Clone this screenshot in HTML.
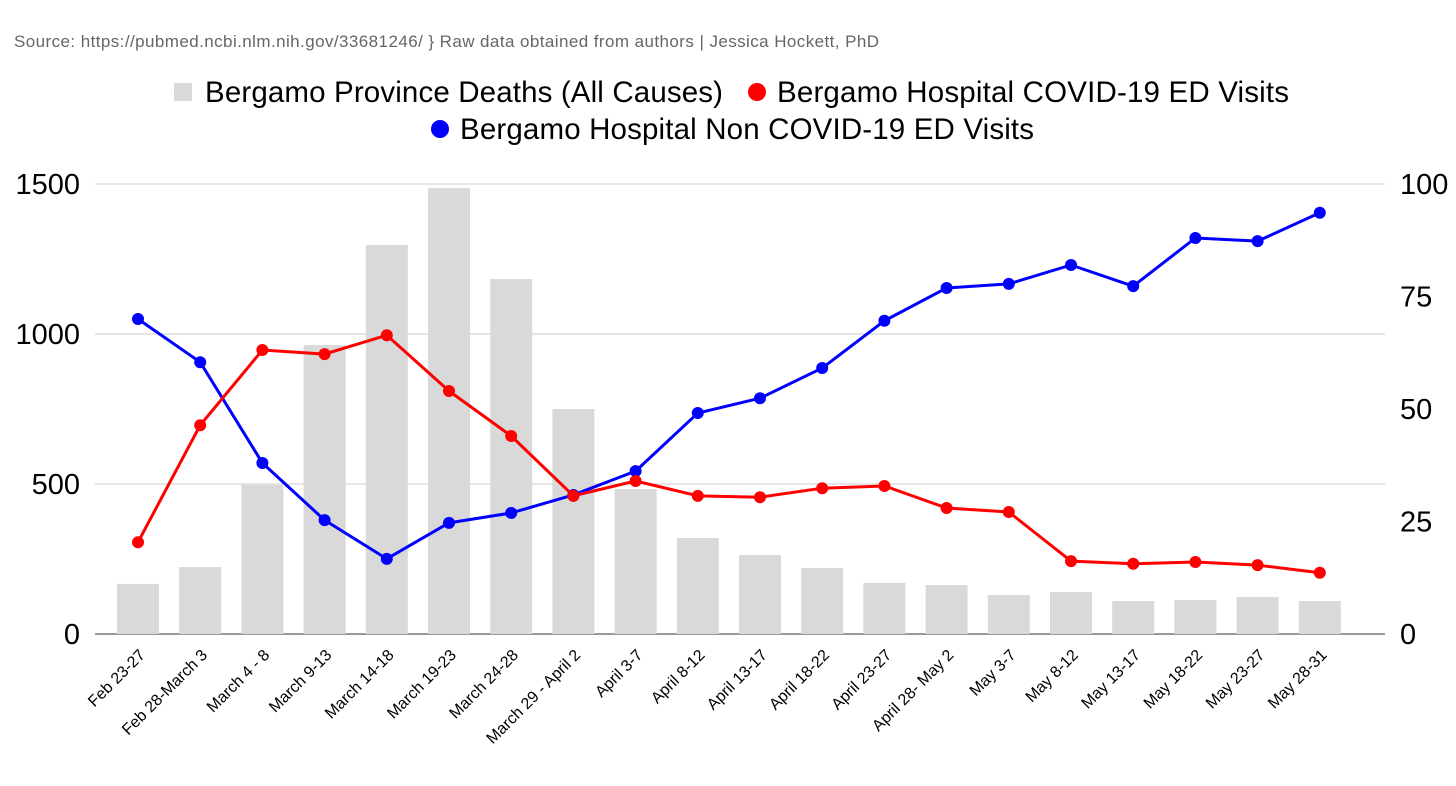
<!DOCTYPE html>
<html><head><meta charset="utf-8"><style>
body{margin:0;background:#fff;font-family:"Liberation Sans",Arial,sans-serif;}
svg text{font-family:"Liberation Sans",Arial,sans-serif;}
</style></head><body>
<svg id="chart" width="1456" height="781" viewBox="0 0 1456 781">
<text x="14" y="47" font-size="17" fill="#666" textLength="865">Source: https://pubmed.ncbi.nlm.nih.gov/33681246/ } Raw data obtained from authors | Jessica Hockett, PhD</text>
<g>
<g><rect x="174" y="83" width="18" height="18" fill="#d9d9d9"/><text x="205" y="102" font-size="29.5" textLength="518">Bergamo Province Deaths (All Causes)</text></g>
<g><circle cx="757" cy="92" r="9" fill="#f00"/><text x="777" y="102" font-size="29.5" textLength="512">Bergamo Hospital COVID-19 ED Visits</text></g>
<g><circle cx="440" cy="129" r="9" fill="#00f"/><text x="460" y="139" font-size="29.5" textLength="574">Bergamo Hospital Non COVID-19 ED Visits</text></g>
</g>
<g id="grid"></g><g id="bars"></g><g id="lines"></g><g id="axes"></g>
</svg>
<script>
const categories=["Feb 23-27","Feb 28-March 3","March 4 - 8","March 9-13","March 14-18","March 19-23","March 24-28","March 29 - April 2","April 3-7","April 8-12","April 13-17","April 18-22","April 23-27","April 28- May 2","May 3-7","May 8-12","May 13-17","May 18-22","May 23-27","May 28-31"];
const deaths=[167,223,497,963,1297,1487,1183,750,483,320,263,220,170,163,130,140,110,113,123,110];
const covidVisits=[20.4,46.4,63.1,62.2,66.4,54,44,30.7,34,30.7,30.4,32.4,32.9,28,27.1,16.2,15.6,16,15.3,13.6];
const nonCovidVisits=[70,60.4,38,25.3,16.7,24.7,26.9,30.9,36.2,49.1,52.4,59.1,69.6,76.9,77.8,82,77.3,88,87.3,93.6];
const leftTicks=[0,500,1000,1500];
const rightTicks=[0,25,50,75,100];
const NS="http://www.w3.org/2000/svg";
const y0=634,yTop=184,x0=138,dx=62.2;
const xS=i=>x0+i*dx;
const yL=v=>y0-v/1500*(y0-yTop);
const yR=v=>y0-v/100*(y0-yTop);
function mk(tag,attrs,parent){const e=document.createElementNS(NS,tag);for(const k in attrs)e.setAttribute(k,attrs[k]);document.getElementById(parent).appendChild(e);return e;}
leftTicks.forEach(t=>{
 const l=mk('line',{x1:95,x2:1385,y1:yL(t),y2:yL(t),stroke:t===0?'#333':'#ccc','stroke-width':1},'grid');
 
 
 const tx=mk('text',{x:80,y:yL(t)+10,'font-size':29,'text-anchor':'end'},'axes');tx.textContent=t;
 
 
});
rightTicks.forEach(t=>{
 const tx=mk('text',{x:1400,y:yR(t)+10,'font-size':29},'axes');tx.textContent=t;
 
 
});
deaths.forEach((v,i)=>{
 const r=mk('rect',{x:xS(i)-21,y:yL(v),width:42,height:y0-yL(v),fill:'#d9d9d9'},'bars');
 
 
});
categories.forEach((c,i)=>{
 const tx=mk('text',{x:0,y:0,'font-size':16,'text-anchor':'end',transform:`translate(${xS(i)+8},${y0+22}) rotate(-45)`},'axes');tx.textContent=c;
 
 
});
function series(vals,color,name){
 const p=mk('polyline',{points:vals.map((v,i)=>xS(i)+','+yR(v)).join(' '),fill:'none',stroke:color,'stroke-width':3,'stroke-linejoin':'round'},'lines');
 
 
 vals.forEach((v,i)=>{
  const c=mk('circle',{cx:xS(i),cy:yR(v),r:6,fill:color},'lines');
  
  
 });
}
series(nonCovidVisits,'#00f','noncovid');
series(covidVisits,'#f00','covid');
</script>
</body></html>
